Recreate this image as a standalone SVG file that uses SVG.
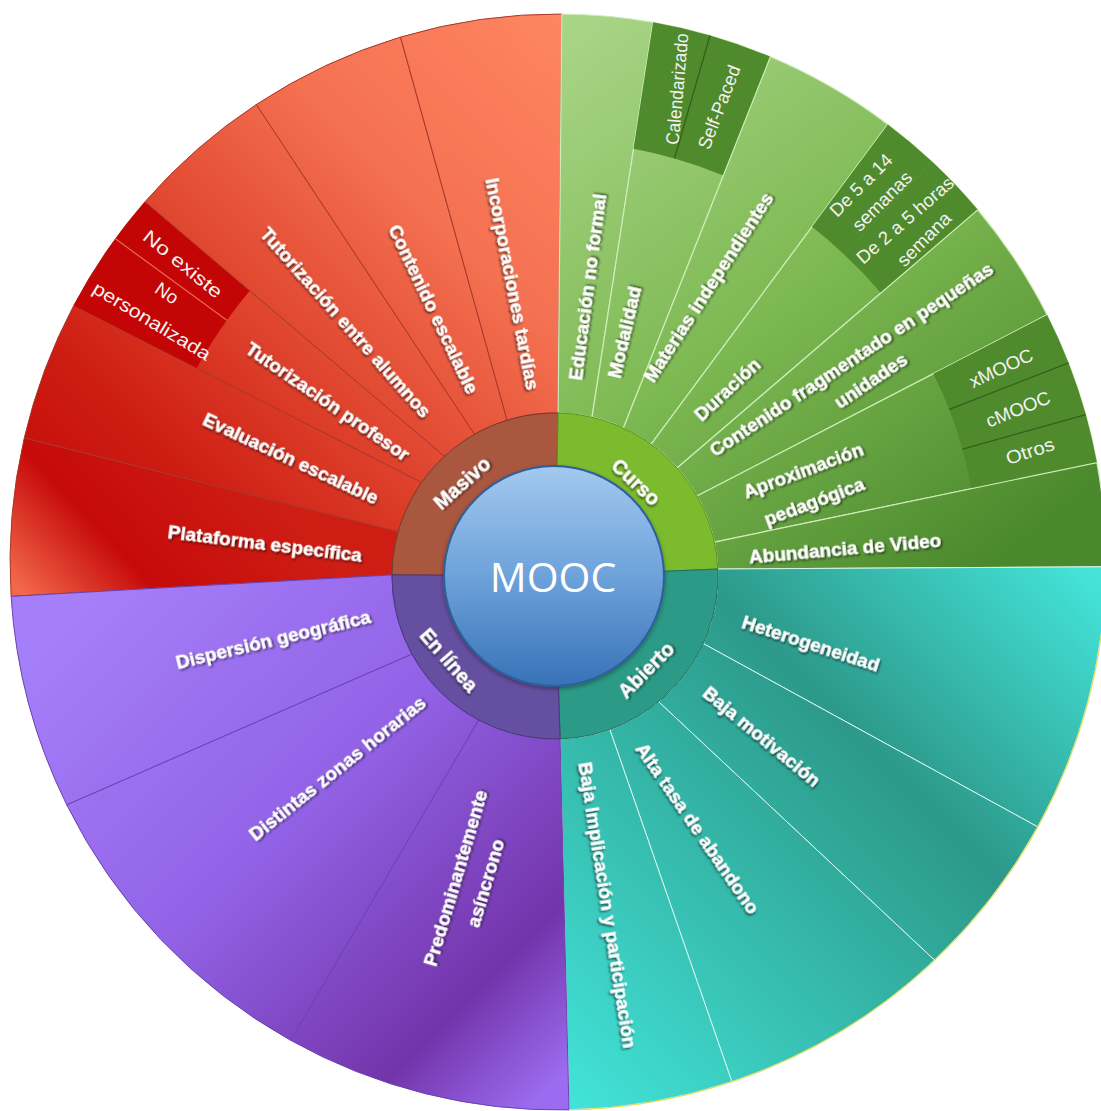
<svg xmlns="http://www.w3.org/2000/svg" width="1101" height="1111" viewBox="0 0 1101 1111">
<defs>
<linearGradient id="gRed" gradientUnits="userSpaceOnUse" x1="560" y1="20" x2="30" y2="560">
<stop offset="0" stop-color="#FF8561"/><stop offset="0.3" stop-color="#F47151"/><stop offset="0.55" stop-color="#E0462F"/><stop offset="0.78" stop-color="#CD1C12"/><stop offset="1" stop-color="#C20606"/></linearGradient>
<linearGradient id="gPlat" gradientUnits="userSpaceOnUse" x1="30" y1="600" x2="210" y2="430">
<stop offset="0" stop-color="#F2684A"/><stop offset="0.4" stop-color="#C60A0A"/><stop offset="1" stop-color="#CE1E14"/></linearGradient>
<linearGradient id="gGreen" gradientUnits="userSpaceOnUse" x1="590" y1="20" x2="1000" y2="560">
<stop offset="0" stop-color="#A8D486"/><stop offset="0.5" stop-color="#7DB952"/><stop offset="1" stop-color="#4A882C"/></linearGradient>
<linearGradient id="gTeal" gradientUnits="userSpaceOnUse" x1="1100" y1="580" x2="575" y2="1100">
<stop offset="0" stop-color="#44E4DA"/><stop offset="0.38" stop-color="#2C998A"/><stop offset="0.6" stop-color="#33B3A4"/><stop offset="1" stop-color="#42E2D8"/></linearGradient>
<linearGradient id="gPurple" gradientUnits="userSpaceOnUse" x1="60" y1="620" x2="540" y2="1100">
<stop offset="0" stop-color="#A57FFA"/><stop offset="0.45" stop-color="#9262E6"/><stop offset="0.82" stop-color="#7334AA"/><stop offset="1" stop-color="#9C6CF0"/></linearGradient>
<linearGradient id="gMooc" gradientUnits="userSpaceOnUse" x1="0" y1="466" x2="0" y2="686">
<stop offset="0" stop-color="#A3C9EE"/><stop offset="0.5" stop-color="#6DA2DA"/><stop offset="1" stop-color="#3872B8"/></linearGradient>
<filter id="ts" x="-20%" y="-40%" width="140%" height="180%">
<feDropShadow dx="1.3" dy="1.5" stdDeviation="1" flood-color="#000" flood-opacity="0.7"/></filter>
<filter id="cs" x="-10%" y="-10%" width="120%" height="120%">
<feDropShadow dx="0" dy="2" stdDeviation="2" flood-color="#000" flood-opacity="0.35"/></filter>
<style>
.red{fill:url(#gRed);stroke:#A8382A;stroke-width:1}
.plat{fill:url(#gPlat);stroke:#A8382A;stroke-width:1}
.grn{fill:url(#gGreen);stroke:#CFEBB8;stroke-width:1.2}
.tea{fill:url(#gTeal);stroke:#D6F5EE;stroke-width:1}
.pur{fill:url(#gPurple);stroke:#6A42B2;stroke-width:1}
.rbox{fill:#C30505;stroke:none}
.gbox{fill:#4F8B2D;stroke:none}
.rdiv{stroke:#EE6650;stroke-width:1.2;fill:none}
.gdiv{stroke:#355F1C;stroke-width:1.3;fill:none}
.lb{font-family:'Liberation Sans',Arial,sans-serif;font-weight:bold;font-size:19px;fill:#fff;stroke:#fff;stroke-width:0.3;text-anchor:middle;dominant-baseline:central;filter:url(#ts)}
.rg{font-size:20px}
.sb{font-family:'Liberation Sans',Arial,sans-serif;font-weight:normal;font-size:18.5px;fill:#F2F2F2;text-anchor:middle;dominant-baseline:central}
.mooc{font-family:'Open Sans','Liberation Sans',sans-serif;font-size:41px;fill:#fff;text-anchor:middle;dominant-baseline:central}
</style>
</defs>
<rect width="1101" height="1111" fill="#fff"/>

<!-- Masivo segments -->
<g id="plataforma-especifica"><path class="plat" d="M392,574.9 L11.1,596.4 A548,548 0 0 1 24.3,437.8 L398.2,531.6 A163,163 0 0 0 392,574.9Z"/>
<text class="lb" x="265" y="543" transform="rotate(7 265 543)">Plataforma específica</text></g>
<g id="evaluacion-escalable"><path class="red" d="M398.2,531.6 L24.3,437.8 A548,548 0 0 1 73.8,305.4 L421.6,482.4 A163,163 0 0 0 398.2,531.6Z"/>
<text class="lb" x="291" y="458" transform="rotate(25 291 458)">Evaluación escalable</text></g>
<g id="tutorizacion-profesor"><path class="red" d="M421.6,482.4 L73.8,305.4 A548,548 0 0 1 145,201.7 L444.4,456.3 A163,163 0 0 0 421.6,482.4Z"/>
<text class="lb" x="328" y="401" transform="rotate(34.5 328 401)">Tutorización profesor</text></g>
<g id="no-existe"><path class="rbox" d="M226.9,320.2 L115.4,238.8 A548,548 0 0 1 145,201.7 L249.8,290.8 A410,410 0 0 0 226.9,320.2Z"/>
<text class="sb" x="183" y="264" textLength="96" lengthAdjust="spacingAndGlyphs" transform="rotate(39 183 264)">No existe</text></g>
<g id="no-personalizada"><path class="rbox" d="M196.9,368.1 L73.8,305.4 A548,548 0 0 1 115.4,238.8 L226.9,320.2 A410,410 0 0 0 196.9,368.1Z"/>
<path class="rdiv" d="M226.9,320.2 L115.4,238.8"/>
<text class="sb" x="167" y="293" transform="rotate(34 167 293)">No</text>
<text class="sb" x="152" y="321" textLength="134" lengthAdjust="spacingAndGlyphs" transform="rotate(31 152 321)">personalizada</text></g>
<g id="tutorizacion-entre-alumnos"><path class="red" d="M444.4,456.3 L145,201.7 A548,548 0 0 1 256.3,104.5 L474.5,434.3 A163,163 0 0 0 444.4,456.3Z"/>
<text class="lb" x="346" y="322" transform="rotate(48.5 346 322)">Tutorización entre alumnos</text></g>
<g id="contenido-escalable"><path class="red" d="M474.5,434.3 L256.3,104.5 A548,548 0 0 1 400.5,37.1 L507.1,420.2 A163,163 0 0 0 474.5,434.3Z"/>
<text class="lb" x="434" y="309" transform="rotate(64.5 434 309)">Contenido escalable</text></g>
<g id="incorporaciones-tardias"><path class="red" d="M507.1,420.2 L400.5,37.1 A548,548 0 0 1 561.8,14 L558.1,413 A163,163 0 0 0 507.1,420.2Z"/>
<text class="lb" x="512" y="284" transform="rotate(79 512 284)">Incorporaciones tardías</text></g>

<!-- Curso segments -->
<g id="educacion-no-formal"><path class="grn" d="M558.1,413 L561.8,14 A548,548 0 0 1 653.1,22.3 L592,417.2 A163,163 0 0 0 558.1,413Z"/>
<text class="lb" x="587" y="287" transform="rotate(-82.5 587 287)">Educación no formal</text></g>
<g id="modalidad"><path class="grn" d="M592,417.2 L653.1,22.3 A548,548 0 0 1 770.4,56.8 L623.4,428 A163,163 0 0 0 592,417.2Z"/>
<text class="lb" x="624" y="332" transform="rotate(-77 624 332)">Modalidad</text></g>
<g id="calendarizado"><path class="gbox" d="M633.5,148.7 L653.1,22.3 A548,548 0 0 1 710,35.5 L674.5,158.5 A420,420 0 0 0 633.5,148.7Z"/>
<text class="sb" x="677" y="89" textLength="112" lengthAdjust="spacingAndGlyphs" transform="rotate(-85 677 89)">Calendarizado</text></g>
<g id="self-paced"><path class="gbox" d="M674.5,158.5 L710,35.5 A548,548 0 0 1 770.4,56.8 L723.4,175.6 A420,420 0 0 0 674.5,158.5Z"/>
<path class="gdiv" d="M674.5,158.5 L710,35.5"/>
<text class="sb" x="719" y="107" textLength="88" lengthAdjust="spacingAndGlyphs" transform="rotate(-69 719 107)">Self-Paced</text></g>
<g id="materias-independientes"><path class="grn" d="M623.4,428 L770.4,56.8 A548,548 0 0 1 887.8,124.4 L651,444.3 A163,163 0 0 0 623.4,428Z"/>
<text class="lb" x="708" y="287" transform="rotate(-57 708 287)">Materias independientes</text></g>
<g id="duracion"><path class="grn" d="M651,444.3 L887.8,124.4 A548,548 0 0 1 977.8,209.8 L677.1,468 A163,163 0 0 0 651,444.3Z"/>
<text class="lb" x="727" y="389" transform="rotate(-43 727 389)">Duración</text></g>
<g id="de-5-a-14-semanas"><path class="gbox" d="M812,226.8 L887.8,124.4 A548,548 0 0 1 931.7,161.2 L844.4,254.8 A420,420 0 0 0 812,226.8Z"/>
<text class="sb" x="861" y="185" textLength="80" lengthAdjust="spacingAndGlyphs" transform="rotate(-45 861 185)">De 5 a 14</text>
<text class="sb" x="882" y="201" textLength="76" lengthAdjust="spacingAndGlyphs" transform="rotate(-45 882 201)">semanas</text></g>
<g id="de-2-a-5-horas-semana"><path class="gbox" d="M844.4,254.8 L931.7,161.2 A548,548 0 0 1 977.8,209.8 L881,293 A420,420 0 0 0 844.4,254.8Z"/>
<text class="sb" x="905" y="220" textLength="122" lengthAdjust="spacingAndGlyphs" transform="rotate(-41 905 220)">De 2 a 5 horas</text>
<text class="sb" x="924" y="239" textLength="68" lengthAdjust="spacingAndGlyphs" transform="rotate(-45 924 239)">semana</text></g>
<g id="contenido-fragmentado"><path class="grn" d="M677.1,468 L977.8,209.8 A548,548 0 0 1 1047.1,314.9 L697,496 A163,163 0 0 0 677.1,468Z"/>
<text class="lb" x="851" y="359" transform="rotate(-33.5 851 359)">Contenido fragmentado en pequeñas</text>
<text class="lb" x="871" y="381" transform="rotate(-34 871 381)">unidades</text></g>
<g id="aproximacion-pedagogica"><path class="grn" d="M697,496 L1047.1,314.9 A548,548 0 0 1 1096.9,462.6 L714.4,542.1 A163,163 0 0 0 697,496Z"/>
<text class="lb" x="803" y="470" transform="rotate(-20.5 803 470)">Aproximación</text>
<text class="lb" x="814" y="501" transform="rotate(-20.5 814 501)">pedagógica</text></g>
<g id="xmooc"><path class="gbox" d="M933.3,373.8 L1047.1,314.9 A548,548 0 0 1 1068.6,362.9 L949.3,409.4 A420,420 0 0 0 933.3,373.8Z"/>
<text class="sb" x="1001" y="368" textLength="68" lengthAdjust="spacingAndGlyphs" transform="rotate(-25 1001 368)">xMOOC</text></g>
<g id="cmooc"><path class="gbox" d="M949.3,409.4 L1068.6,362.9 A548,548 0 0 1 1085.8,414.6 L962.5,449.1 A420,420 0 0 0 949.3,409.4Z"/>
<path class="gdiv" d="M949.3,409.4 L1068.6,362.9"/>
<text class="sb" x="1018" y="409" textLength="68" lengthAdjust="spacingAndGlyphs" transform="rotate(-22 1018 409)">cMOOC</text></g>
<g id="otros"><path class="gbox" d="M962.5,449.1 L1085.8,414.6 A548,548 0 0 1 1096.9,462.6 L971.4,488.7 A420,420 0 0 0 962.5,449.1Z"/>
<path class="gdiv" d="M962.5,449.1 L1085.8,414.6"/>
<text class="sb" x="1030" y="451" textLength="50" lengthAdjust="spacingAndGlyphs" transform="rotate(-18 1030 451)">Otros</text></g>
<g id="abundancia-de-video"><path class="grn" d="M714.4,542.1 L1096.9,462.6 A548,548 0 0 1 1106,566.8 L717.8,569 A163,163 0 0 0 714.4,542.1Z"/>
<text class="lb" x="845" y="548" transform="rotate(-5 845 548)">Abundancia de Video</text></g>

<!-- Abierto segments -->
<g id="heterogeneidad"><path class="tea" d="M717.8,569 L1106,566.8 A548,548 0 0 1 1037.8,826.9 L703.3,643.6 A163,163 0 0 0 717.8,569Z"/>
<text class="lb" x="811" y="643" transform="rotate(18 811 643)">Heterogeneidad</text></g>
<g id="baja-motivacion"><path class="tea" d="M703.3,643.6 L1037.8,826.9 A548,548 0 0 1 934.6,960.2 L658.7,701.8 A163,163 0 0 0 703.3,643.6Z"/>
<text class="lb" x="762" y="736" transform="rotate(39.5 762 736)">Baja motivación</text></g>
<g id="alta-tasa-de-abandono"><path class="tea" d="M658.7,701.8 L934.6,960.2 A548,548 0 0 1 731.9,1081.7 L609.8,729.5 A163,163 0 0 0 658.7,701.8Z"/>
<text class="lb" x="698" y="828" transform="rotate(55.5 698 828)">Alta tasa de abandono</text></g>
<g id="baja-implicacion"><path class="tea" d="M609.8,729.5 L731.9,1081.7 A548,548 0 0 1 569,1109.9 L560.1,738.9 A163,163 0 0 0 609.8,729.5Z"/>
<text class="lb" x="608" y="905" transform="rotate(81 608 905)">Baja Implicación y participación</text></g>

<!-- En línea segments -->
<g id="predominantemente-asincrono"><path class="pur" d="M560.1,738.9 L569,1109.9 A548,548 0 0 1 290.6,1040.3 L478.6,720 A163,163 0 0 0 560.1,738.9Z"/>
<text class="lb" x="455" y="878" transform="rotate(-73.5 455 878)">Predominantemente</text>
<text class="lb" x="485" y="883" transform="rotate(-73.5 485 883)">asíncrono</text></g>
<g id="distintas-zonas-horarias"><path class="pur" d="M478.6,720 L290.6,1040.3 A548,548 0 0 1 66.7,804.8 L411.9,654 A163,163 0 0 0 478.6,720Z"/>
<text class="lb" x="337" y="768" transform="rotate(-38.5 337 768)">Distintas zonas horarias</text></g>
<g id="dispersion-geografica"><path class="pur" d="M411.9,654 L66.7,804.8 A548,548 0 0 1 11.1,596.4 L392,574.9 A163,163 0 0 0 411.9,654Z"/>
<text class="lb" x="273" y="639" transform="rotate(-13.5 273 639)">Dispersión geográfica</text></g>

<!-- outer rim accent on Abierto -->
<path d="M1106,566.8 A548,548 0 0 1 569,1109.9" fill="none" stroke="#E4DC5A" stroke-width="1.2"/>

<!-- Ring -->
<g id="masivo"><path d="M555,576 L392,574.9 A163,163 0 0 1 558.1,413Z" fill="#A9573F" stroke="#7A3A28" stroke-width="1"/>
<text class="lb rg" x="462" y="483" transform="rotate(-41.5 462 483)">Masivo</text></g>
<g id="curso"><path d="M555,576 L558.1,413 A163,163 0 0 1 717.8,569Z" fill="#7CBB2D" stroke="#5A8F1E" stroke-width="1"/>
<text class="lb rg" x="636" y="482" transform="rotate(43 636 482)">Curso</text></g>
<g id="abierto"><path d="M555,576 L717.8,569 A163,163 0 0 1 560.1,738.9Z" fill="#2B9A86" stroke="#1E6F60" stroke-width="1"/>
<text class="lb rg" x="646" y="670" transform="rotate(-45 646 670)">Abierto</text></g>
<g id="en-linea"><path d="M555,576 L560.1,738.9 A163,163 0 0 1 392,574.9Z" fill="#654FA0" stroke="#47367A" stroke-width="1"/>
<text class="lb rg" x="449" y="660" transform="rotate(49 449 660)">En línea</text></g>

<!-- Center -->
<g id="mooc"><circle cx="554" cy="576" r="110" fill="url(#gMooc)" stroke="#2F5E98" stroke-width="2" filter="url(#cs)"/>
<text class="mooc" x="553" y="576">MOOC</text></g>
</svg>
